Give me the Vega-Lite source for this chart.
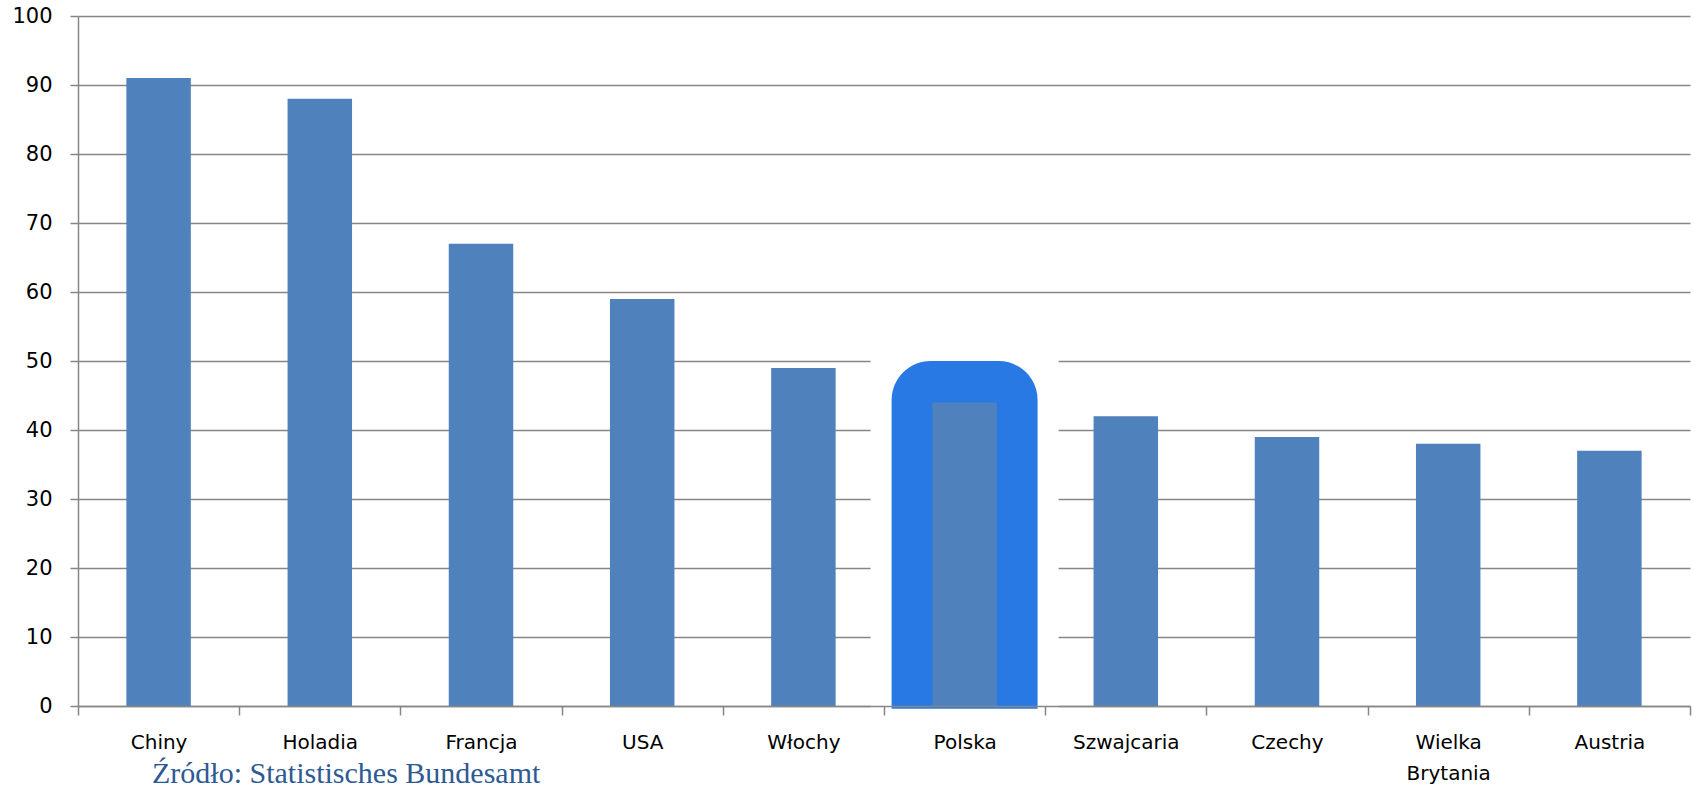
{
  "$schema": "https://vega.github.io/schema/vega-lite/v6.json",
  "width": 1612,
  "height": 690,
  "autosize": {"type": "none"},
  "padding": {"left": 78, "top": 16, "right": 4, "bottom": 83},
  "background": "white",
  "title": {
    "text": "Źródło: Statistisches Bundesamt",
    "orient": "bottom",
    "anchor": "start",
    "frame": "group",
    "dx": 74,
    "offset": -24,
    "font": "Liberation Serif",
    "fontSize": 30,
    "fontWeight": "normal",
    "color": "#2e5a94",
    "baseline": "top"
  },
  "config": {
    "view": {"stroke": null}
  },
  "data": {
    "values": [
      {"country": "Chiny", "value": 91},
      {"country": "Holadia", "value": 88},
      {"country": "Francja", "value": 67},
      {"country": "USA", "value": 59},
      {"country": "Włochy", "value": 49},
      {"country": "Polska", "value": 44, "frame": 50},
      {"country": "Szwajcaria", "value": 42},
      {"country": "Czechy", "value": 39},
      {"country": "Wielka Brytania", "value": 38},
      {"country": "Austria", "value": 37}
    ]
  },
  "encoding": {
    "x": {
      "field": "country",
      "type": "nominal",
      "sort": ["Chiny", "Holadia", "Francja", "USA", "Włochy", "Polska", "Szwajcaria", "Czechy", "Wielka Brytania", "Austria"],
      "scale": {"paddingInner": 0, "paddingOuter": 0},
      "axis": {
        "title": null,
        "tickBand": "extent",
        "grid": false,
        "tickSize": 9,
        "tickColor": "#868686",
        "tickWidth": 1.5,
        "domainColor": "#868686",
        "domainWidth": 1.5,
        "labelAngle": 0,
        "labelPadding": 17,
        "labelFont": "DejaVu Sans",
        "labelFontSize": 20,
        "labelColor": "#000000",
        "labelLineHeight": 31,
        "labelBaseline": "top",
        "labelExpr": "datum.label == 'Wielka Brytania' ? ['Wielka', 'Brytania'] : datum.label",
        "zindex": 1
      }
    }
  },
  "layer": [
    {
      "transform": [{"filter": "isValid(datum.frame)"}],
      "mark": {
        "type": "bar",
        "width": 146,
        "color": "#ffffff",
        "stroke": "#ffffff",
        "strokeWidth": 42
      },
      "encoding": {
        "y": {
          "field": "frame",
          "type": "quantitative",
          "scale": {"domain": [0, 100], "nice": false},
          "title": null,
          "axis": {
            "values": [0, 10, 20, 30, 40, 50, 60, 70, 80, 90, 100],
            "grid": true,
            "gridColor": "#868686",
            "gridWidth": 1.5,
            "gridOpacity": 1,
            "domainColor": "#868686",
            "domainWidth": 1.5,
            "tickColor": "#868686",
            "tickWidth": 1.5,
            "tickSize": 8,
            "labelPadding": 18,
            "labelFont": "DejaVu Sans",
            "labelFontSize": 21,
            "labelColor": "#000000",
            "title": null,
            "zindex": 0
          }
        },
        "y2": {"datum": -0.4}
      }
    },
    {
      "transform": [{"filter": "isValid(datum.frame)"}],
      "mark": {
        "type": "bar",
        "width": 146,
        "color": "#2879e3",
        "cornerRadiusTopLeft": 39,
        "cornerRadiusTopRight": 39
      },
      "encoding": {
        "y": {"field": "frame", "type": "quantitative", "title": null},
        "y2": {"datum": -0.4}
      }
    },
    {
      "mark": {"type": "bar", "width": {"band": 0.4}, "color": "#4f81bd"},
      "encoding": {
        "y": {"field": "value", "type": "quantitative", "title": null}
      }
    }
  ]
}
